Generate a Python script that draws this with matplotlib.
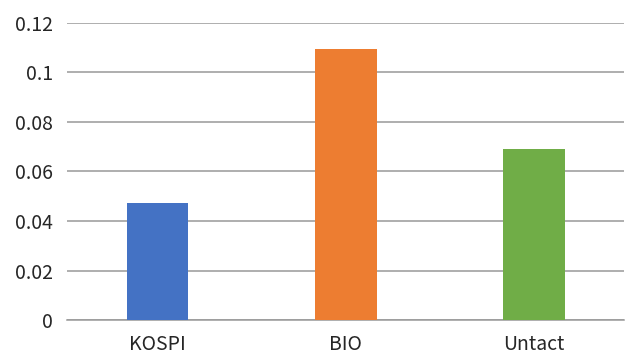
import matplotlib.pyplot as plt
import numpy as np

plt.rcParams['font.family'] = ['Noto Sans CJK KR', 'DejaVu Sans']

categories = ['KOSPI', 'BIO', 'Untact']
values = [0.0471, 0.1096, 0.0690]
colors = ['#4472C4', '#ED7D31', '#70AD47']
yticks = [0, 0.02, 0.04, 0.06, 0.08, 0.1, 0.12]
ytick_labels = ['0', '0.02', '0.04', '0.06', '0.08', '0.1', '0.12']

fig = plt.figure(figsize=(6.26, 3.56), dpi=100)
ax = fig.add_axes([0.107, 0.101, 0.890, 0.835])

x = np.arange(len(categories))
ax.bar(x, values, width=0.328, color=colors, zorder=3)

ax.set_xlim(-0.48, 2.478)
ax.set_ylim(0, 0.12)
ax.set_yticks(yticks)
ax.set_yticklabels(ytick_labels)
ax.set_xticks(x)
ax.set_xticklabels(categories)

ax.yaxis.grid(True, color='#999999', linewidth=1.1, zorder=0)
ax.tick_params(axis='both', length=0, labelsize=14, colors='#262626')
ax.tick_params(axis='y', pad=10)
ax.tick_params(axis='x', pad=10)
for side in ['top', 'right', 'left']:
    ax.spines[side].set_visible(False)
ax.spines['bottom'].set_color('#999999')
ax.spines['bottom'].set_linewidth(1.1)

fig.savefig('out.png', dpi=100)
